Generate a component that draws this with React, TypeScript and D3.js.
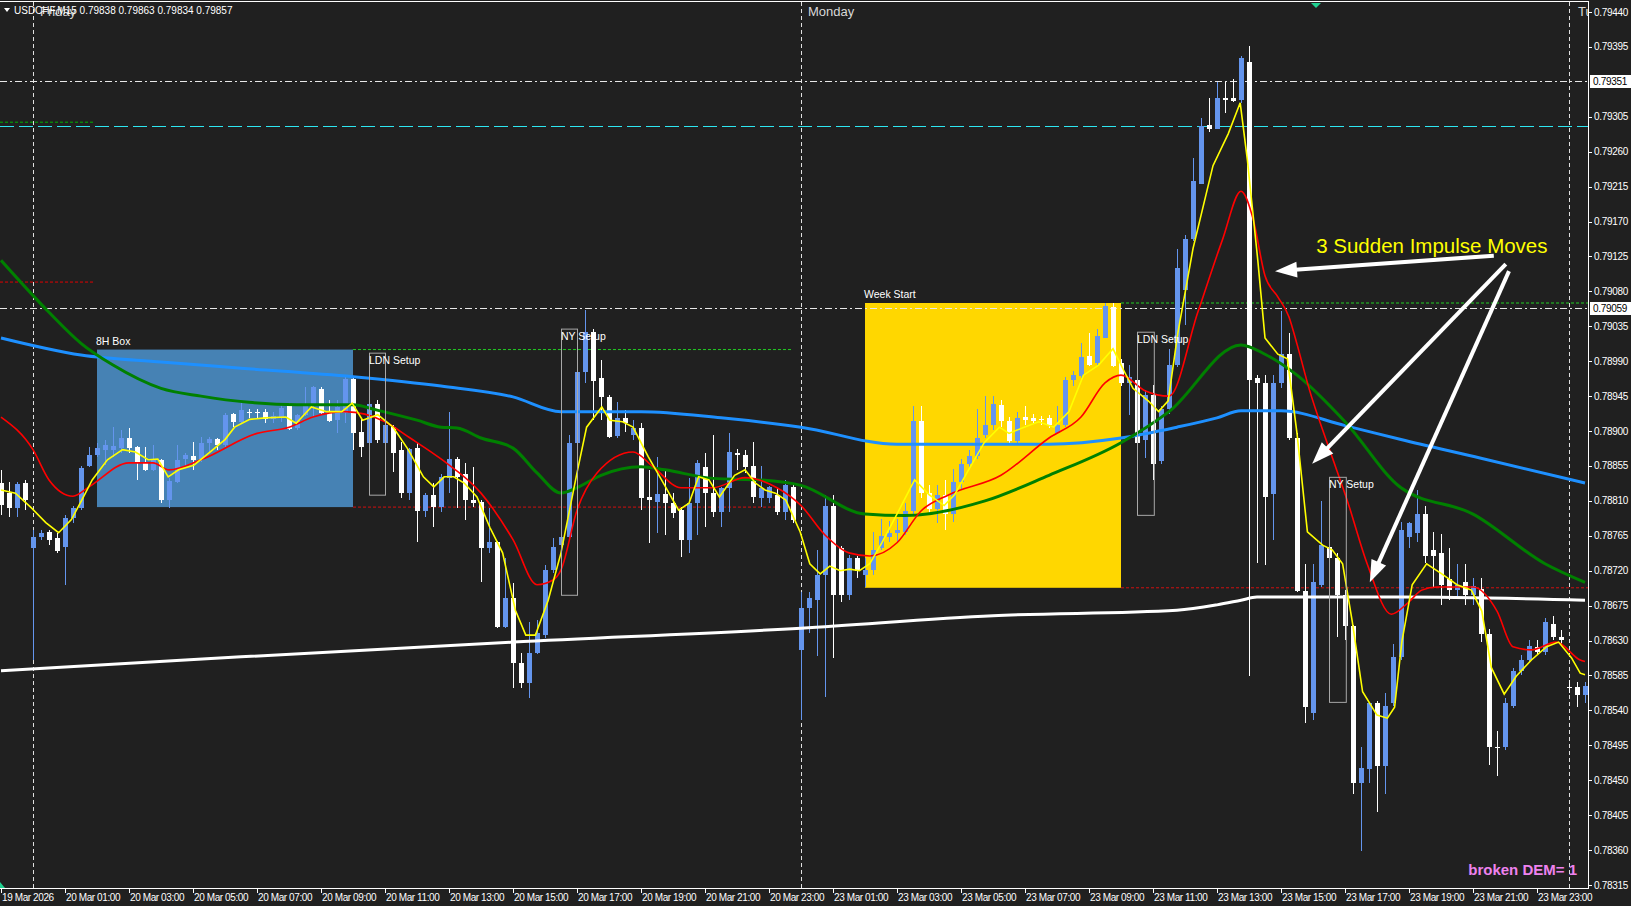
import React from "react";
import * as d3 from "d3";

const W = 1631;
const H = 906;
const PLOT_R = 1588;
const PLOT_T = 2;
const PLOT_B = 888;
const FONT = "'Liberation Sans', Arial, sans-serif";

// ---- OHLC, M15 bars from 19 Mar 23:00 (index 0) ----
const opens = [78833,78820,78801,78833,78749,78764,78770,78762,78751,78788,78801,78855,78869,78876,78876,78878,78891,78880,78859,78850,78863,78811,78834,78864,78868,78863,78884,78890,78882,78922,78912,78925,78924,78924,78916,78917,78935,78904,78921,78935,78954,78923,78914,78923,78967,78899,78885,78935,78885,78905,78876,78820,78878,78797,78818,78802,78840,78864,78844,78811,78809,78749,78757,78648,78685,78601,78575,78614,78637,78721,78753,78764,78885,78976,79028,78968,78944,78893,78917,78895,78904,78815,78809,78819,78807,78798,78760,78807,78854,78820,78796,78827,78872,78869,78855,78814,78814,78818,78796,78828,78618,78672,78682,78714,78804,78749,78689,78736,78714,78721,78749,78764,78768,78770,78797,78913,78820,78800,78818,78793,78834,78857,78868,78895,78908,78934,78913,78887,78918,78917,78916,78917,78897,78908,78966,78971,78997,78988,79020,79060,78988,78962,78966,78889,78946,78862,78928,78985,79082,79148,79218,79294,79289,79329,79329,79327,79376,78968,78962,78819,78962,78999,78891,78694,78537,78702,78751,78736,78689,78649,78446,78464,78549,78468,78549,78609,78764,78768,78793,78747,78743,78709,78695,78706,78689,78697,78639,78493,78493,78546,78591,78605,78622,78615,78651,78635,78570,78570,78560];
const highs = [78850,78834,78834,78837,78773,78773,78773,78769,78792,78804,78855,78880,78885,78889,78905,78901,78904,78881,78880,78882,78864,78840,78882,78872,78886,78892,78892,78891,78923,78923,78939,78928,78928,78928,78925,78934,78936,78922,78957,78958,78957,78940,78940,78970,78970,78917,78940,78940,78910,78908,78886,78878,78885,78820,78833,78844,78925,78867,78859,78854,78811,78801,78758,78736,78704,78614,78654,78657,78727,78762,78769,78895,78992,79056,79031,78992,78946,78937,78927,78914,78910,78850,78867,78850,78820,78802,78840,78863,78872,78895,78828,78898,78877,78876,78886,78855,78829,78827,78837,78830,78693,78692,78747,78818,78818,78752,78740,78739,78736,78770,78787,78784,78787,78807,78932,78932,78830,78831,78837,78851,78864,78875,78928,78945,78945,78940,78918,78924,78932,78922,78920,78921,78932,78969,78977,79014,79026,79031,79065,79065,78993,78985,78970,78953,78959,78932,79006,79135,79152,79252,79303,79329,79350,79350,79354,79383,79396,78972,78972,78972,79055,79026,78898,78729,78729,78810,78753,78743,78695,78650,78493,78550,78552,78562,78626,78783,78783,78824,78804,78770,78767,78749,78729,78729,78710,78710,78645,78514,78556,78595,78611,78631,78631,78659,78662,78644,78579,78576,78576];
const lows = [78792,78789,78789,78798,78605,78760,78753,78743,78702,78782,78798,78854,78867,78856,78867,78872,78872,78837,78849,78849,78807,78801,78833,78854,78850,78860,78872,78876,78880,78905,78911,78917,78916,78910,78910,78912,78901,78901,78920,78918,78921,78912,78897,78910,78876,78867,78880,78885,78867,78847,78814,78811,78757,78789,78776,78796,78820,78801,78786,78802,78706,78743,78646,78646,78569,78569,78556,78613,78633,78717,78749,78760,78882,78962,78914,78914,78891,78891,78899,78889,78798,78756,78769,78766,78788,78738,78743,78766,78776,78789,78776,78796,78850,78846,78807,78802,78807,78792,78786,78782,78528,78640,78610,78557,78607,78680,78682,78711,78699,78714,78747,78757,78757,78766,78791,78814,78793,78781,78773,78783,78824,78851,78864,78891,78901,78905,78885,78885,78908,78910,78908,78904,78897,78905,78958,78968,78984,78984,79020,78983,78958,78921,78872,78865,78837,78858,78922,78982,79037,79145,79218,79285,79289,79310,79324,79323,78584,78730,78727,78760,78955,78888,78693,78524,78528,78699,78695,78635,78631,78432,78359,78446,78409,78432,78546,78605,78749,78757,78730,78699,78676,78682,78686,78676,78676,78628,78470,78455,78489,78543,78586,78602,78611,78611,78631,78624,78563,78544,78549];
const closes = [78805,78801,78832,78811,78764,78769,78760,78745,78788,78801,78852,78869,78878,78882,78881,78891,78878,78859,78850,78863,78811,78836,78863,78869,78863,78885,78890,78882,78921,78912,78927,78924,78923,78916,78919,78930,78903,78921,78935,78957,78923,78913,78931,78967,78897,78880,78935,78889,78908,78872,78820,78877,78797,78818,78802,78841,78864,78841,78811,78807,78749,78757,78648,78685,78601,78575,78614,78640,78721,78751,78764,78885,78976,79028,78964,78944,78892,78917,78910,78904,78814,78811,78819,78807,78794,78760,78807,78859,78820,78796,78827,78873,78869,78854,78815,78827,78828,78796,78830,78786,78672,78685,78714,78804,78689,78689,78736,78720,78721,78747,78765,78769,78773,78797,78913,78820,78800,78818,78793,78834,78857,78868,78891,78908,78935,78913,78887,78917,78914,78913,78914,78908,78908,78966,78972,78995,78985,79023,79061,78984,78962,78970,78885,78947,78858,78928,78985,79110,79148,79222,79293,79289,79329,79327,79325,79381,78966,78962,78815,78962,78999,78891,78694,78544,78706,78753,78736,78689,78649,78446,78466,78549,78468,78546,78609,78773,78781,78793,78739,78739,78702,78695,78702,78689,78700,78639,78493,78492,78549,78591,78605,78623,78615,78654,78635,78631,78569,78560,78571];

// ---- moving averages: [bar index, price*1e5] ----
const yellowMA = [[0,78824],[1.8,78820],[3.7,78802],[5.6,78782],[7.2,78769],[8.8,78786],[10.1,78811],[11.4,78837],[13.3,78863],[15.2,78876],[16.8,78873],[18.4,78863],[19.6,78864],[20.9,78841],[22.2,78850],[24.1,78856],[26,78872],[28,78889],[29.2,78905],[31.1,78915],[33,78917],[35.6,78918],[36.9,78910],[38.8,78931],[40.7,78925],[42.6,78925],[43.9,78936],[45.2,78914],[47.1,78921],[49,78905],[50.9,78876],[52.8,78841],[54.1,78828],[55.4,78841],[56.6,78841],[57.9,78833],[59.5,78815],[61.1,78776],[62.7,78743],[64.3,78669],[65.6,78637],[66.8,78637],[68.4,78682],[70,78743],[72,78846],[73.2,78905],[75.1,78931],[76.1,78914],[77.7,78912],[79,78905],[80.9,78867],[82.8,78833],[84.7,78798],[86,78807],[87.2,78841],[88.5,78837],[89.8,78815],[91.7,78843],[93,78850],[94.3,78833],[95.5,78824],[96.8,78820],[98.1,78811],[99.9,78770],[101.1,78729],[102.4,78716],[103.6,78726],[104.9,78720],[106.1,78722],[107.3,78720],[108.6,78729],[110.1,78756],[111.7,78787],[114.2,78837],[116,78818],[117.9,78804],[119.2,78818],[121,78851],[122.9,78885],[124.8,78905],[126,78897],[127.9,78905],[129.7,78912],[131.6,78905],[133.5,78925],[135.3,78972],[137.2,78985],[139,79006],[140.3,78979],[141.5,78955],[143.4,78939],[144.7,78925],[145.9,78939],[147.1,79026],[149,79135],[151.5,79242],[153.4,79283],[154.9,79323],[155.8,79249],[157.1,79120],[158,79020],[159.6,78999],[160.8,78993],[162,78897],[163.3,78770],[165.2,78753],[166.4,78747],[167.7,78729],[168.9,78655],[170.2,78564],[172,78534],[173.3,78530],[174.2,78544],[175.1,78628],[176.4,78702],[178.2,78729],[180.1,78716],[182,78702],[183.8,78695],[185.1,78668],[186.3,78595],[187.9,78561],[189.4,78584],[191.3,78605],[193.2,78622],[194.7,78628],[196.3,78608],[197.4,78588],[198,78586]];
const redMA = [[0,78918],[4,78876],[6,78837],[9,78816],[11,78828],[16,78859],[19,78859],[21,78850],[25,78863],[32,78897],[36,78905],[39,78918],[43,78925],[48,78912],[51,78892],[55,78864],[60,78820],[64,78760],[67,78702],[69,78708],[70,78721],[72,78798],[74.5,78846],[79,78873],[81.5,78854],[85,78827],[89,78827],[93,78840],[97,78827],[100,78804],[103,78766],[106,78743],[108.6,78739],[112,78756],[115,78797],[118.5,78818],[125,78843],[131,78891],[135,78918],[138,78962],[140,78972],[143,78952],[146,78945],[149.6,79053],[152.7,79147],[155,79209],[156.5,79174],[158,79100],[159.6,79073],[161,79047],[162,79012],[163.5,78955],[166,78878],[168.3,78810],[170.8,78728],[173.8,78664],[176,78680],[177.6,78695],[179.5,78699],[184,78699],[187,78668],[189,78622],[191.3,78618],[194.4,78628],[197.4,78605],[198,78603]];
const greenMA = [[0,79120],[6,79053],[10,79013],[14,78985],[20,78955],[25,78945],[31,78937],[37,78934],[44,78934],[47,78927],[52,78914],[55,78905],[57,78904],[60,78891],[64,78878],[67,78846],[70,78820],[72,78827],[75,78843],[80,78854],[83,78850],[89,78839],[95,78837],[100,78830],[108,78793],[113,78791],[123,78810],[131,78843],[140,78885],[146,78925],[155,79011],[158,78999],[162,78972],[168,78912],[175,78827],[184,78793],[193,78729],[198,78705]];
const blueMA = [[0,79020],[10,78998],[20,78989],[30,78981],[44,78970],[55,78958],[64,78944],[70,78925],[80,78925],[90,78917],[100,78905],[112,78883],[131,78883],[140,78891],[147,78905],[152,78917],[155,78926],[160,78926],[168,78907],[175,78889],[185,78865],[198,78833]];
const whiteMA = [[0,78591],[30,78609],[64,78628],[100,78646],[124,78662],[147,78669],[152,78676],[155,78682],[157,78686],[175,78686],[198,78682]];

// ---- axis ----
const priceTicks = [0.7944,0.79395,0.79305,0.7926,0.79215,0.7917,0.79125,0.7908,0.79035,0.7899,0.78945,0.789,0.78855,0.7881,0.78765,0.7872,0.78675,0.7863,0.78585,0.7854,0.78495,0.7845,0.78405,0.7836,0.78315];
const timeTickBars = [0,8,16,24,32,40,48,56,64,72,80,88,96,104,112,120,128,136,144,152,160,168,176,184,192];
const timeTickLabels = ["19 Mar 2026","20 Mar 01:00","20 Mar 03:00","20 Mar 05:00","20 Mar 07:00","20 Mar 09:00","20 Mar 11:00","20 Mar 13:00","20 Mar 15:00","20 Mar 17:00","20 Mar 19:00","20 Mar 21:00","20 Mar 23:00","23 Mar 01:00","23 Mar 03:00","23 Mar 05:00","23 Mar 07:00","23 Mar 09:00","23 Mar 11:00","23 Mar 13:00","23 Mar 15:00","23 Mar 17:00","23 Mar 19:00","23 Mar 21:00","23 Mar 23:00"];
const daySepBars = [4, 100, 196];
const daySepLabels = ["Friday", "Monday", "Tuesday"];

// ---- objects ----
const boxes = [
  { name: "8H Box", from: 12, to: 44, hi: 0.79005, lo: 0.78802, fill: "#4682B4", ext: 99 },
  { name: "Week Start", from: 108, to: 140, hi: 0.79065, lo: 0.78698, fill: "#FFD700", ext: 198.5 },
];
const setups = [
  { name: "LDN Setup", from: 46, to: 48, hi: 0.79001, lo: 0.78818 },
  { name: "NY Setup", from: 70, to: 72, hi: 0.79032, lo: 0.78689 },
  { name: "LDN Setup", from: 142, to: 144.1, hi: 0.79028, lo: 0.78792 },
  { name: "NY Setup", from: 166, to: 168.1, hi: 0.78841, lo: 0.78551 },
];
const priceLevels = [0.79351, 0.79059];
const cyanLevel = 0.79293;
const leftShortLevels = [{ p: 0.79298, c: "#00B000" }, { p: 0.79092, c: "#E00000" }];
const arrows = [
  { from: [186.6, 0.79126], to: [159.25, 0.79106] },
  { from: [188.1, 0.79115], to: [163.9, 0.78858] },
  { from: [188.5, 0.79106], to: [171.1, 0.78705] },
];
const annotation = { text: "3 Sudden Impulse Moves", bar: 164.4, price: 0.79129 };

export default function App() {
  const x = d3.scaleLinear().domain([0, 198]).range([1, 1585]);
  const y = d3.scaleLinear().domain([0.78315, 0.7944]).range([885, 12]);
  const yp = (v: number) => y(v / 100000);

  const lineLin = d3.line().x((d: any) => x(d[0])).y((d: any) => yp(d[1])).curve(d3.curveLinear);
  const lineSm = d3.line().x((d: any) => x(d[0])).y((d: any) => yp(d[1])).curve(d3.curveMonotoneX);

  const candles = opens.map((o, i) => {
    const c = closes[i];
    const hi = highs[i];
    const lo = lows[i];
    const cx = Math.round(x(i));
    const bull = c > o;
    const col = bull ? "#6495ED" : "#FFFFFF";
    const top = Math.round(yp(Math.max(o, c)));
    const bot = Math.round(yp(Math.min(o, c)));
    return (
      <g key={i}>
        <rect x={cx} y={Math.round(yp(hi))} width={1} height={Math.max(1, Math.round(yp(lo)) - Math.round(yp(hi)))} fill={col} />
        <rect x={cx - 2} y={top} width={5} height={Math.max(1, bot - top)} fill={col} />
      </g>
    );
  });

  const arrowEls = arrows.map((a, k) => {
    const x1 = x(a.from[0]), y1 = y(a.from[1]);
    const x2 = x(a.to[0]), y2 = y(a.to[1]);
    const dx = x2 - x1, dy = y2 - y1;
    const len = Math.hypot(dx, dy);
    const ux = dx / len, uy = dy / len;
    const hl = 22, hw = 8;
    const bx = x2 - ux * hl, by = y2 - uy * hl;
    const pts = [[x2, y2], [bx - uy * hw, by + ux * hw], [bx + uy * hw, by - ux * hw]];
    return (
      <g key={k}>
        <line x1={x1} y1={y1} x2={bx + ux * 2} y2={by + uy * 2} stroke="#FFFFFF" strokeWidth={4} />
        <polygon points={pts.map((p) => p.join(",")).join(" ")} fill="#FFFFFF" />
      </g>
    );
  });

  return (
    <svg width={W} height={H} style={{ position: "fixed", left: 0, top: 0, display: "block", background: "#202020" }} fontFamily={FONT}>
      <defs>
        <clipPath id="plot">
          <rect x={0} y={PLOT_T} width={PLOT_R} height={PLOT_B - PLOT_T} />
        </clipPath>
      </defs>
      <rect x={0} y={0} width={W} height={H} fill="#202020" />
      <g clipPath="url(#plot)">
        {/* session boxes */}
        {boxes.map((b, k) => (
          <g key={k}>
            <rect x={x(b.from)} y={y(b.hi)} width={x(b.to) - x(b.from)} height={y(b.lo) - y(b.hi)} fill={b.fill} />
            <line x1={x(b.to)} x2={x(b.ext)} y1={y(b.hi)} y2={y(b.hi)} stroke="#22CC22" strokeDasharray="3,2" strokeWidth={1} />
            <line x1={x(b.to)} x2={x(b.ext)} y1={y(b.lo)} y2={y(b.lo)} stroke="#D01010" strokeDasharray="3,2" strokeWidth={1} />
            <text x={x(b.from) - 1} y={y(b.hi) - 5} fill="#FFFFFF" fontSize={10.5}>{b.name}</text>
          </g>
        ))}
        {/* left short levels */}
        {leftShortLevels.map((l, k) => (
          <line key={k} x1={0} x2={x(11.6)} y1={y(l.p)} y2={y(l.p)} stroke={l.c} strokeDasharray="3,2" />
        ))}
        {/* day separators */}
        {daySepBars.map((b, k) => (
          <line key={k} x1={x(b) + 0.5} x2={x(b) + 0.5} y1={PLOT_T} y2={PLOT_B} stroke="#E0E0E0" strokeDasharray="4,3" strokeWidth={1} />
        ))}
        {/* horizontal levels */}
        {priceLevels.map((p, k) => (
          <line key={k} x1={0} x2={PLOT_R} y1={Math.round(y(p)) + 0.5} y2={Math.round(y(p)) + 0.5} stroke="#E8E8E8" strokeDasharray="7,3,2,3" />
        ))}
        <line x1={0} x2={PLOT_R} y1={Math.round(y(cyanLevel)) + 0.5} y2={Math.round(y(cyanLevel)) + 0.5} stroke="#2EE6F0" strokeDasharray="14,5" />
        {/* candles */}
        {candles}
        {/* moving averages */}
        <path d={lineSm(whiteMA as any) || ""} fill="none" stroke="#FFFFFF" strokeWidth={3} />
        <path d={lineSm(blueMA as any) || ""} fill="none" stroke="#1E90FF" strokeWidth={3} />
        <path d={lineSm(greenMA as any) || ""} fill="none" stroke="#008000" strokeWidth={3} />
        <path d={lineSm(redMA as any) || ""} fill="none" stroke="#FF0000" strokeWidth={1.6} />
        <path d={lineLin(yellowMA as any) || ""} fill="none" stroke="#FFFF00" strokeWidth={1.6} />
        {/* setup rectangles */}
        {setups.map((s, k) => (
          <g key={k}>
            <rect x={x(s.from) + 0.5} y={y(s.hi) + 0.5} width={x(s.to) - x(s.from)} height={y(s.lo) - y(s.hi)} fill="none" stroke="#A8A8A8" strokeWidth={1} />
            <text x={x(s.from)} y={y(s.hi) + 11} fill="#FFFFFF" fontSize={10.5}>{s.name}</text>
          </g>
        ))}
        {/* day labels */}
        {daySepLabels.map((t, k) => (
          <text key={k} x={x(daySepBars[k]) + (k === 2 ? 9 : 7)} y={16} fill="#D8D8D8" fontSize={13}>{t}</text>
        ))}
        {/* annotation */}
        <text x={x(annotation.bar)} y={y(annotation.price)} fill="#FFFF00" fontSize={20.5}>{annotation.text}</text>
        {arrowEls}
        <text x={1577} y={875} textAnchor="end" fill="#EE82EE" fontSize={15} fontWeight="bold">broken DEM= 1</text>
        <polygon points="1311,3 1321,3 1316,8" fill="#20D090" />
      </g>
      {/* header */}
      <polygon points="4,8 10,8 7,12" fill="#FFFFFF" />
      <text x={14} y={14} fill="#FFFFFF" fontSize={10}>USDCHF,M15  0.79838 0.79863 0.79834 0.79857</text>
      {/* frame */}
      <line x1={0} x2={PLOT_R} y1={1.5} y2={1.5} stroke="#FFFFFF" />
      <line x1={PLOT_R + 0.5} x2={PLOT_R + 0.5} y1={1} y2={PLOT_B + 1} stroke="#FFFFFF" />
      <line x1={0} x2={PLOT_R} y1={PLOT_B + 0.5} y2={PLOT_B + 0.5} stroke="#FFFFFF" />
      <polygon points="0,882 0,888 5,888" fill="#20D090" />
      {/* price axis */}
      {priceTicks.map((p, k) => (
        <g key={k}>
          <line x1={PLOT_R} x2={PLOT_R + 4} y1={Math.round(y(p)) + 0.5} y2={Math.round(y(p)) + 0.5} stroke="#FFFFFF" />
          <text x={PLOT_R + 6} y={y(p) + 3.5} fill="#FFFFFF" fontSize={10} letterSpacing={-0.3}>{p.toFixed(5)}</text>
        </g>
      ))}
      {priceLevels.map((p, k) => (
        <g key={k}>
          <rect x={PLOT_R + 2} y={Math.round(y(p)) - 6} width={W - PLOT_R - 2} height={13} fill="#FFFFFF" />
          <text x={PLOT_R + 5} y={y(p) + 4} fill="#000000" fontSize={10} letterSpacing={-0.3}>{p.toFixed(5)}</text>
        </g>
      ))}
      {/* time axis */}
      {timeTickBars.map((b, k) => (
        <g key={k}>
          <line x1={Math.round(x(b)) + 0.5} x2={Math.round(x(b)) + 0.5} y1={PLOT_B} y2={PLOT_B + 5} stroke="#FFFFFF" />
          <text x={x(b) + 1} y={901} fill="#FFFFFF" fontSize={10} letterSpacing={-0.4}>{timeTickLabels[k]}</text>
        </g>
      ))}
    </svg>
  );
}
